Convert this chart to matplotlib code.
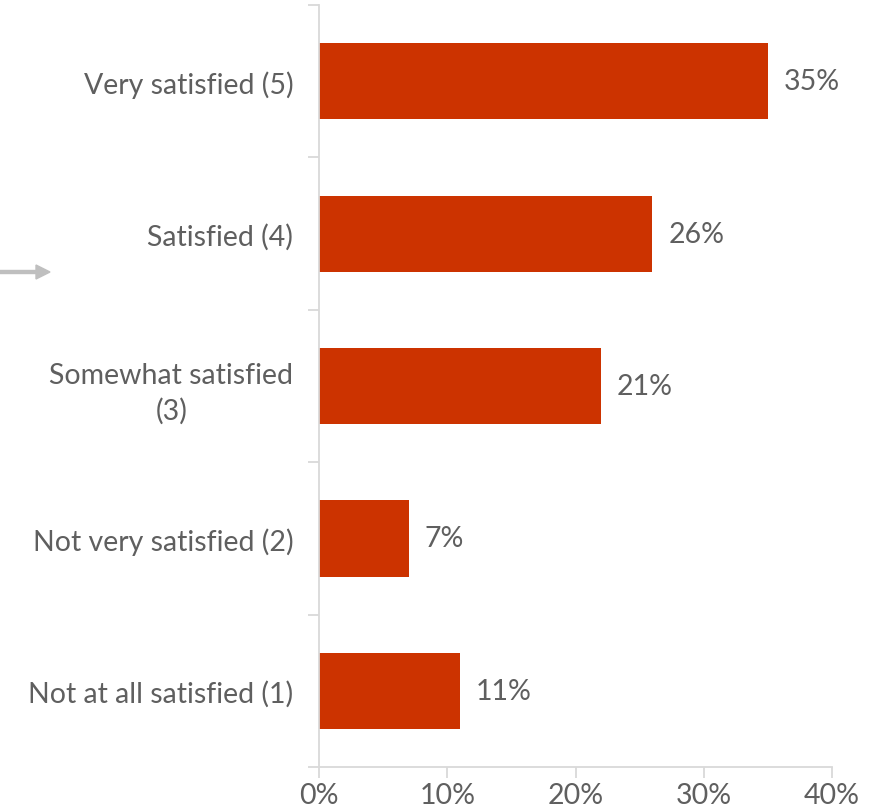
import matplotlib
matplotlib.use("Agg")
import matplotlib.pyplot as plt
from matplotlib.ticker import FixedLocator, PercentFormatter

categories = ["Very satisfied (5)", "Satisfied (4)", "Somewhat satisfied\n(3)",
              "Not very satisfied (2)", "Not at all satisfied (1)"]
values = [35, 26, 22, 7, 11]
value_labels = ["35%", "26%", "21%", "7%", "11%"]
x_ticks = [0, 10, 20, 30, 40]

plt.rcParams['font.family'] = ['Lato', 'DejaVu Sans']
text_color = "#5F5F5F"
axis_color = "#D9D9D9"
bar_color = "#CC3300"
fs = 20.5

fig = plt.figure(figsize=(8.71, 8.12), dpi=100)
ax = fig.add_axes([319/871, 1-768/812, (832-319)/871, (768-6)/812])

n = len(categories)
ypos = list(range(n))[::-1]
ax.barh(ypos, values, height=0.5, color=bar_color)
for y, v, lab in zip(ypos, values, value_labels):
    ax.annotate(lab, (v, y), xytext=(11.5, 0), textcoords="offset points",
                va="center", ha="left", fontsize=fs, color=text_color)

ax.set_xlim(0, 40)
ax.set_ylim(-0.5, n - 0.5)
ax.set_xticks(x_ticks)
ax.xaxis.set_major_formatter(PercentFormatter(decimals=0))
ax.set_yticks(ypos)
ax.set_yticklabels(categories, fontsize=fs, color=text_color, linespacing=1.38)
ax.yaxis.set_minor_locator(FixedLocator([i + 0.5 for i in range(-1, n)]))
for lbl in ax.get_yticklabels():
    lbl.set_horizontalalignment("right")
    lbl.set_multialignment("center")
ax.tick_params(axis="y", which="major", length=0, pad=18.5)
ax.tick_params(axis="y", which="minor", length=8, color=axis_color, width=1.3)
ax.tick_params(axis="x", length=8, color=axis_color, width=1.3, labelsize=fs,
               labelcolor=text_color, pad=3)

for s in ["top", "right"]:
    ax.spines[s].set_visible(False)
for s in ["left", "bottom"]:
    ax.spines[s].set_color(axis_color)
    ax.spines[s].set_linewidth(1.3)

fig.patches.append(matplotlib.patches.FancyArrow(
    0, 1-273/812, 36/871, 0, width=3/812, head_width=14/812, head_length=14/871,
    length_includes_head=False, color="#BFBFBF", transform=fig.transFigure, figure=fig))

fig.savefig("out.png", dpi=100)
